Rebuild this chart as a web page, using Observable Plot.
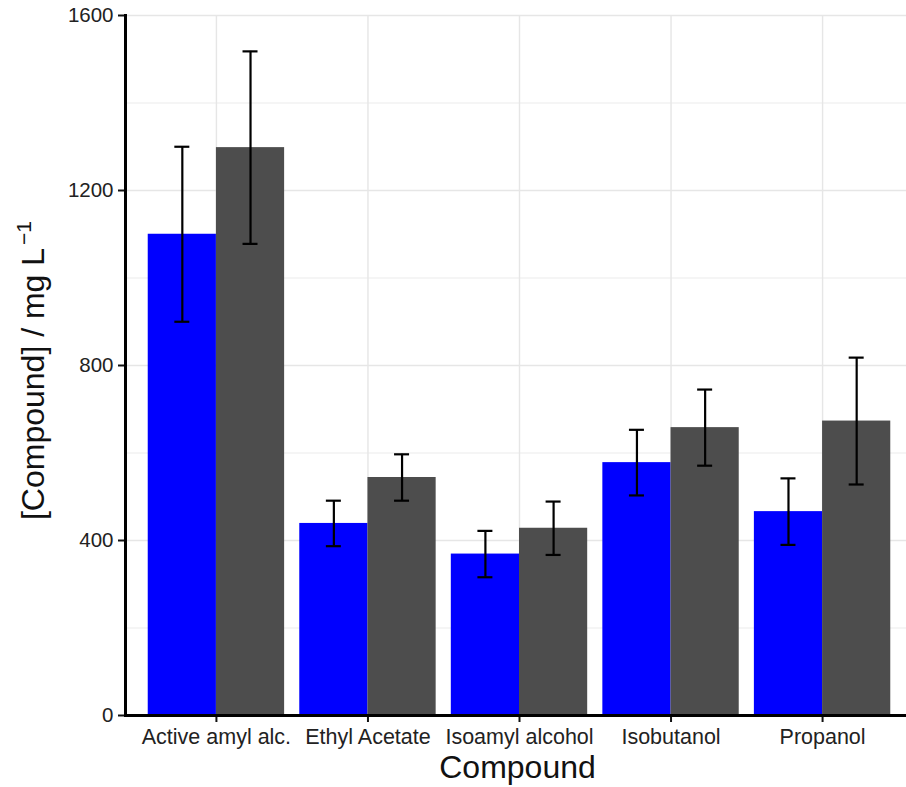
<!DOCTYPE html>
<html>
<head>
<meta charset="utf-8">
<script src="https://cdn.jsdelivr.net/npm/d3@7"></script>
<script src="https://cdn.jsdelivr.net/npm/@observablehq/plot@0.6"></script>
<style>
  html, body { margin: 0; padding: 0; background: white; overflow: hidden; }
</style>
</head>
<body>
<div id="chart"></div>
<script>
const compounds = ["Active amyl alc.", "Ethyl Acetate", "Isoamyl alcohol", "Isobutanol", "Propanol"];
const blueMean = [1100, 439, 369, 578, 466];
const blueErr  = [200, 52, 53, 75, 76];
const grayMean = [1298, 544, 428, 658, 673];
const grayErr  = [220, 53, 61, 87, 145];
const yMajorTicks = [0, 400, 800, 1200, 1600];
const yMinorTicks = [200, 600, 1000, 1400];
const xTitle = "Compound";
const yTitle = "[Compound] / mg L";
const yTitleSup = "\u22121";

const W = 906, H = 787;
const mL = 125, mR = -7, mT = 15, mB = 72;
const BLUE = "#0000FF", GRAY = "#4D4D4D";

const xOpts = {type: "band", domain: compounds, paddingInner: 0.1, paddingOuter: 0.15, round: false};
const xs = Plot.scale({x: {...xOpts, range: [mL, W - mR]}});
const bw = xs.bandwidth;          // width of one compound group
const half = bw / 2;              // width of one bar
const cap = half * 0.22;          // error bar cap width

const data = compounds.map((c, i) => ({
  compound: c,
  a: blueMean[i], aLo: blueMean[i] - blueErr[i], aHi: blueMean[i] + blueErr[i],
  b: grayMean[i], bLo: grayMean[i] - grayErr[i], bHi: grayMean[i] + grayErr[i]
}));

function errMarks(lo, hi, side) {
  // side = -1 for left (blue) bar, +1 for right (gray) bar
  const off = side * bw / 4;
  const inL = side < 0 ? bw / 4 - cap / 2 : 3 * bw / 4 - cap / 2;
  const inR = side < 0 ? 3 * bw / 4 - cap / 2 : bw / 4 - cap / 2;
  return [
    Plot.ruleX(data, {x: "compound", y1: lo, y2: hi, dx: off, stroke: "black", strokeWidth: 2.2}),
    Plot.tickY(data, {x: "compound", y: lo, insetLeft: inL, insetRight: inR, stroke: "black", strokeWidth: 2.2}),
    Plot.tickY(data, {x: "compound", y: hi, insetLeft: inL, insetRight: inR, stroke: "black", strokeWidth: 2.2})
  ];
}

const chart = Plot.plot({
  width: W, height: H,
  marginLeft: mL, marginRight: mR, marginTop: mT, marginBottom: mB,
  x: {...xOpts, label: null},
  y: {domain: [0, 1600], label: null},
  style: {fontFamily: "'Liberation Sans', Arial, sans-serif", background: "white", overflow: "visible"},
  marks: [
    Plot.gridY(yMinorTicks, {stroke: "#ebebeb", strokeOpacity: 1, strokeWidth: 1}),
    Plot.gridY(yMajorTicks, {stroke: "#e6e6e6", strokeOpacity: 1, strokeWidth: 1.4}),
    Plot.gridX(compounds, {stroke: "#e6e6e6", strokeOpacity: 1, strokeWidth: 1.4}),
    Plot.barY(data, {x: "compound", y: "a", fill: BLUE, insetRight: half}),
    Plot.barY(data, {x: "compound", y: "b", fill: GRAY, insetLeft: half}),
    ...errMarks("aLo", "aHi", -1),
    ...errMarks("bLo", "bHi", 1),
    Plot.axisY(yMajorTicks, {tickSize: 7, tickPadding: 5, fontSize: 20.5, tickFormat: d => String(d), fill: "#222", stroke: "#111", strokeWidth: 2, label: null}),
    Plot.axisX({tickSize: 7, tickPadding: 6, fontSize: 21.5, fill: "#222", stroke: "#111", strokeWidth: 2, label: null}),
    Plot.frame({anchor: "left", stroke: "black", strokeWidth: 3}),
    Plot.ruleY([0], {stroke: "black", strokeWidth: 3}),
    Plot.text([xTitle], {frameAnchor: "bottom", dy: 62, dx: -2, lineAnchor: "bottom", fontSize: 32, fill: "#111"}),
    Plot.text([yTitle], {frameAnchor: "left", rotate: -90, dx: -82, dy: 5, textAnchor: "middle", lineAnchor: "bottom", fontSize: 32, fill: "#111", className: "ytitle"})
  ]
});

// add superscript to the y title
const yt = chart.querySelector(".ytitle text");
if (yt) {
  const tsp = document.createElementNS("http://www.w3.org/2000/svg", "tspan");
  tsp.setAttribute("dy", "-13");
  tsp.setAttribute("dx", "3");
  tsp.setAttribute("font-size", "21");
  tsp.textContent = yTitleSup;
  yt.appendChild(tsp);
}

document.getElementById("chart").appendChild(chart);
</script>
</body>
</html>
